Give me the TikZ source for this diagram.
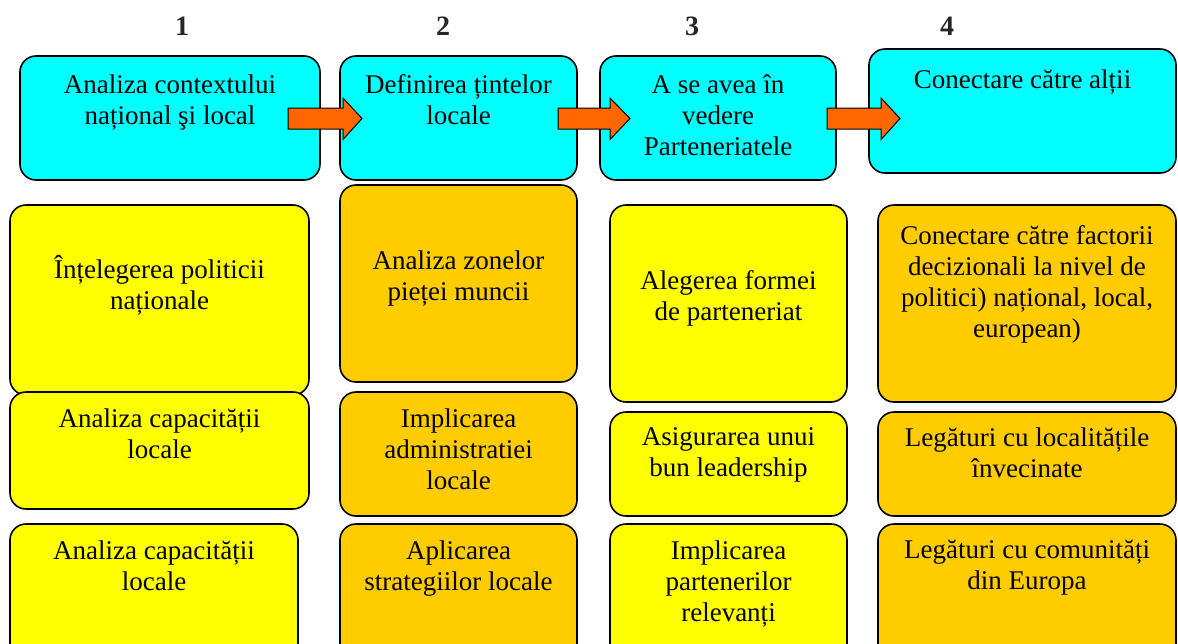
\documentclass[tikz,border=0pt]{standalone}
\usepackage{fontspec}
\setmainfont{Liberation Serif}
\usetikzlibrary{fit}
\definecolor{stepcyan}{HTML}{00FFFF}
\definecolor{actyellow}{HTML}{FFFF00}
\definecolor{actorange}{HTML}{FFCC00}
\definecolor{arroworange}{HTML}{FF6600}
\tikzset{
  box/.style={draw=black, line width=0.8pt, rounded corners=8pt, inner sep=0pt},
  txt/.style={anchor=north, inner sep=0pt, align=center,
    font=\fontsize{13.5}{15.5}\selectfont, execute at begin node=\strut},
  num/.style={anchor=base, inner sep=0pt, font=\fontsize{14}{16}\selectfont\bfseries, text=black!85},
  blockarrow/.style={draw=black, line width=0.5pt, fill=arroworange}
}
\begin{document}
\begin{tikzpicture}[x=0.5pt, y=-0.5pt]
  \useasboundingbox (0,0) rectangle (1178,643);

  % column numbers
  \node [num] at (182, 35) (n1) {1};
  \node [num] at (443, 35) (n2) {2};
  \node [num] at (692, 35) (n3) {3};
  \node [num] at (947, 35) (n4) {4};

  % steps
  \node [box, fill=stepcyan, fit={(20,56) (320,180)}] (s1) {};
  \node [box, fill=stepcyan, fit={(340,56) (577,180)}] (s2) {};
  \node [box, fill=stepcyan, fit={(600,56) (836,180)}] (s3) {};
  \node [box, fill=stepcyan, fit={(869,49) (1176,173)}] (s4) {};
  \node [txt] at (170, 74) (s1t) {Analiza contextului\\național şi local};
  \node [txt] at (458.5, 74) (s2t) {Definirea țintelor\\locale};
  \node [txt] at (718, 74) (s3t) {A se avea în\\vedere\\Parteneriatele};
  \node [txt] at (1022.5, 66.3) (s4t) {Conectare către alții};

  % arrows between steps
  \foreach \xs/\xh/\xt in {288/343/362, 558/610/630, 827/881/900}
    \draw [blockarrow] (\xs,108) -- (\xh,108) -- (\xh,98) -- (\xt,118.5)
      -- (\xh,139.5) -- (\xh,129) -- (\xs,129) -- cycle;

  % column 1
  \node [box, fill=actyellow, fit={(10,205) (309,395)}] (a1) {};
  \node [box, fill=actyellow, fit={(10,392) (309,509)}] (b1) {};
  \node [box, fill=actyellow, fit={(10,524) (298,660)}] (c1) {};
  \node [txt] at (159.5, 255) (a1t) {Înțelegerea politicii\\naționale};
  \node [txt] at (159.5, 408.3) (b1t) {Analiza capacității\\locale};
  \node [txt] at (154, 540) (c1t) {Analiza capacității\\locale};

  % column 2
  \node [box, fill=actorange, fit={(340,185) (577,382)}] (a2) {};
  \node [box, fill=actorange, fit={(340,392) (577,516)}] (b2) {};
  \node [box, fill=actorange, fit={(340,524) (577,660)}] (c2) {};
  \node [txt] at (458.5, 250) (a2t) {Analiza zonelor\\pieței muncii};
  \node [txt] at (458.5, 408.3) (b2t) {Implicarea\\administratiei\\locale};
  \node [txt] at (458.5, 540) (c2t) {Aplicarea\\strategiilor locale};

  % column 3
  \node [box, fill=actyellow, fit={(610,205) (847,402)}] (a3) {};
  \node [box, fill=actyellow, fit={(610,412) (847,516)}] (b3) {};
  \node [box, fill=actyellow, fit={(610,524) (847,660)}] (c3) {};
  \node [txt] at (728.5, 270) (a3t) {Alegerea formei\\de parteneriat};
  \node [txt] at (728.5, 427.6) (b3t) {Asigurarea unui\\bun leadership};
  \node [txt] at (728.5, 540) (c3t) {Implicarea\\partenerilor\\relevanți};

  % column 4
  \node [box, fill=actorange, fit={(878,205) (1176,402)}] (a4) {};
  \node [box, fill=actorange, fit={(878,412) (1176,516)}] (b4) {};
  \node [box, fill=actorange, fit={(878,524) (1176,660)}] (c4) {};
  \node [txt] at (1027, 225) (a4t) {Conectare către factorii\\decizionali la nivel de\\politici) național, local,\\european)};
  \node [txt] at (1027, 427.6) (b4t) {Legături cu localitățile\\învecinate};
  \node [txt] at (1027, 540) (c4t) {Legături cu comunități\\din Europa};
\end{tikzpicture}
\end{document}
